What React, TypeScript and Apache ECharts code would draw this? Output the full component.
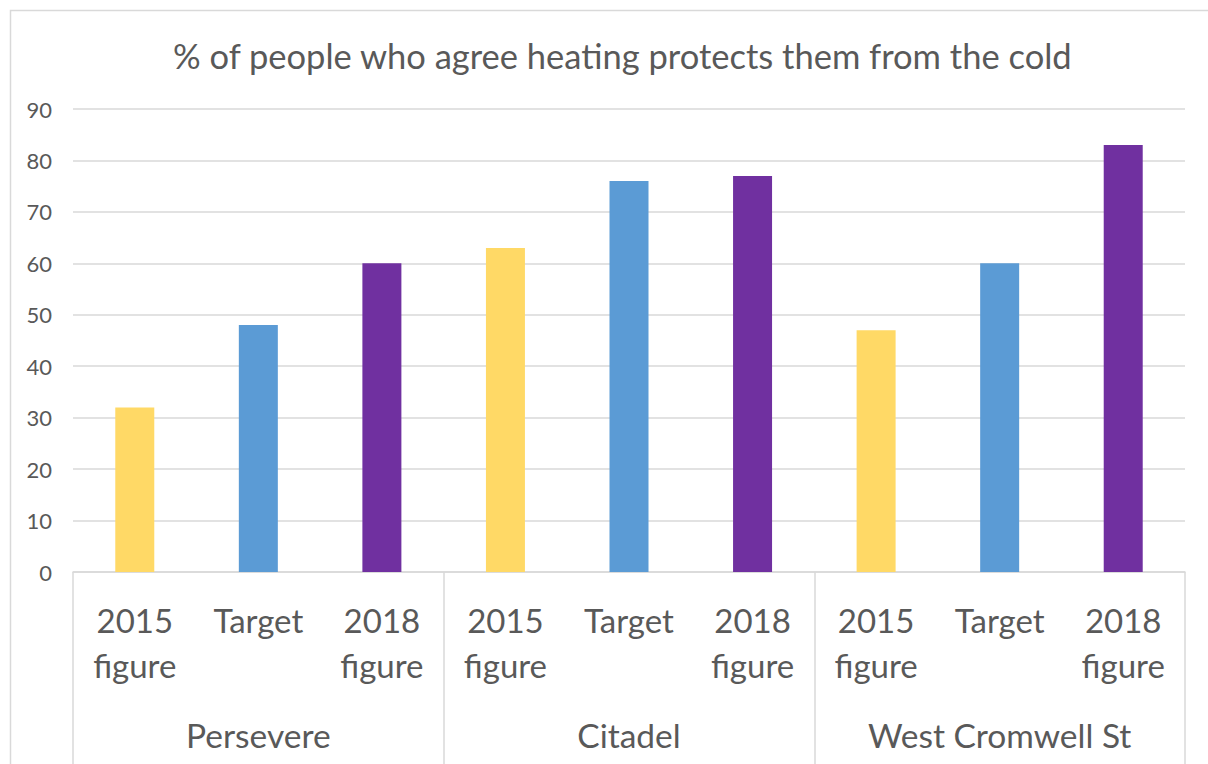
import React, { useEffect, useRef } from "react";
import * as echarts from "echarts";

const titleText = "% of people who agree heating protects them from the cold";
const sites = ["Persevere", "Citadel", "West Cromwell St"];
const measures = ["2015\nfigure", "Target", "2018\nfigure"];
const measureColors = ["#FFD966", "#5B9BD5", "#7030A0"];
const persevereValues = [32, 48, 60];
const citadelValues = [63, 76, 77];
const westCromwellValues = [47, 60, 83];
const yTicks = { min: 0, max: 90, interval: 10 };

const FONT = "Lato, 'Open Sans', sans-serif";
const TEXT = "#595959";
const GRID = "#D9D9D9";

export default function App() {
  const ref = useRef<HTMLDivElement>(null);
  useEffect(() => {
    if (!ref.current) return;
    const chart = echarts.init(ref.current, null, { renderer: "svg" });
    const siteValues = [persevereValues, citadelValues, westCromwellValues];
    const innerCats: string[] = [];
    const data: any[] = [];
    siteValues.forEach((vals) => {
      vals.forEach((v, mi) => {
        innerCats.push(measures[mi]);
        data.push({ value: v, itemStyle: { color: measureColors[mi] } });
      });
    });
    chart.setOption({
      animation: false,
      backgroundColor: "#fff",
      title: {
        text: titleText,
        left: 168,
        top: 33,
        textStyle: { fontFamily: FONT, fontSize: 34.5, fontWeight: "normal", color: TEXT },
      },
      graphic: [
        {
          type: "rect",
          shape: { x: 10.5, y: 10.5, width: 1400, height: 1000 },
          style: { fill: "none", stroke: GRID, lineWidth: 1.5 },
          silent: true,
        },
      ],
      grid: { left: 73, right: 23, top: 109, bottom: 192, containLabel: false },
      xAxis: [
        {
          type: "category",
          data: innerCats,
          position: "bottom",
          axisLine: { show: true, lineStyle: { color: GRID, width: 1.5 } },
          axisTick: { show: false },
          axisLabel: {
            interval: 0,
            margin: 25,
            fontFamily: FONT,
            fontSize: 33,
            lineHeight: 45,
            color: TEXT,
          },
        },
        {
          type: "category",
          data: sites,
          position: "bottom",
          axisLine: { show: false },
          axisTick: { show: true, length: 220, interval: 0, lineStyle: { color: GRID, width: 1.5 } },
          axisLabel: {
            interval: 0,
            margin: 146,
            fontFamily: FONT,
            fontSize: 33.5,
            color: TEXT,
          },
        },
      ],
      yAxis: {
        type: "value",
        min: yTicks.min,
        max: yTicks.max,
        interval: yTicks.interval,
        axisLine: { show: false },
        axisTick: { show: false },
        splitLine: { lineStyle: { color: GRID, width: 1.5 } },
        axisLabel: { fontFamily: FONT, fontSize: 22, color: TEXT, margin: 21 },
      },
      series: [
        {
          type: "bar",
          xAxisIndex: 0,
          barWidth: 39,
          data,
        },
      ],
    });
    return () => chart.dispose();
  }, []);
  return (
    <div
      ref={ref}
      style={{ position: "absolute", left: 0, top: 0, width: 1208, height: 764 }}
    />
  );
}
